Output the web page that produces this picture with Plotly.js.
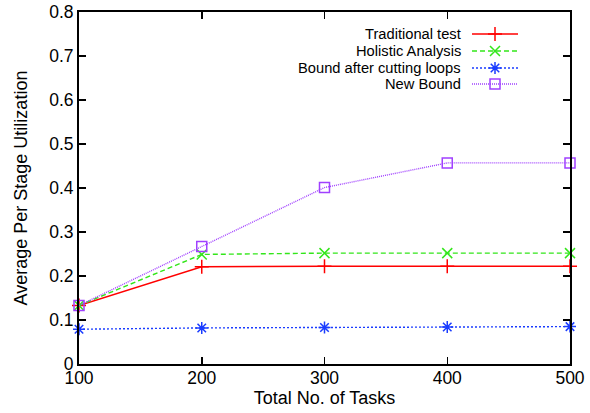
<!DOCTYPE html>
<html><head><meta charset="utf-8">
<script src="https://cdn.plot.ly/plotly-3.0.1.min.js"></script>
<style>html,body{margin:0;padding:0;background:#fff}#chart{width:590px;height:413px}</style>
</head><body><div id="chart"></div>
<script>
const tasks = [100, 200, 300, 400, 500];
const seriesNames = ["Traditional test", "Holistic Analysis", "Bound after cutting loops", "New Bound"];
const traditional = [0.133, 0.221, 0.222, 0.222, 0.222];
const holistic = [0.133, 0.249, 0.252, 0.252, 0.252];
const cutLoops = [0.079, 0.082, 0.083, 0.084, 0.085];
const newBound = [0.133, 0.267, 0.401, 0.457, 0.457];
const xTicks = [100, 200, 300, 400, 500];
const yTicks = [0, 0.1, 0.2, 0.3, 0.4, 0.5, 0.6, 0.7, 0.8];
const yTickText = ["0", "0.1", "0.2", "0.3", "0.4", "0.5", "0.6", "0.7", "0.8"];

const values = [traditional, holistic, cutLoops, newBound];
const styles = [
  {color: "#ff0000", dash: "solid", sym: "cross-thin-open", size: 10},
  {color: "#33e61a", dash: "5px,3px", sym: "x-thin-open", size: 10},
  {color: "#1a3cff", dash: "2px,2px", sym: "asterisk-open", size: 10},
  {color: "#a040ff", dash: "1px,1px", sym: "square-open", size: 10}
];

const traces = [];
values.forEach((v, i) => {
  const s = styles[i];
  traces.push({
    x: tasks, y: v, type: "scatter", mode: "lines+markers", name: seriesNames[i],
    showlegend: false, cliponaxis: false,
    line: {color: s.color, width: 1.4, dash: s.dash},
    marker: {symbol: s.sym, size: s.size, color: s.color, line: {color: s.color, width: 1.5}}
  });
});

// manual legend (symbol to the right of the text, gnuplot style) on an overlay paper-like axis
const legX0 = (472 - 79) / 491, legX1 = (518 - 79) / 491, legXm = (495 - 79) / 491;
const legRows = [34, 51, 68, 84].map(p => (364 - p) / 352);
const annotations = [];
seriesNames.forEach((n, i) => {
  const s = styles[i];
  traces.push({
    x: [legX0, legX1], y: [legRows[i], legRows[i]], xaxis: "x2", yaxis: "y2",
    type: "scatter", mode: "lines", showlegend: false, hoverinfo: "skip",
    line: {color: s.color, width: 1.4, dash: s.dash}
  });
  traces.push({
    x: [legXm], y: [legRows[i]], xaxis: "x2", yaxis: "y2",
    type: "scatter", mode: "markers", showlegend: false, hoverinfo: "skip",
    marker: {symbol: s.sym, size: s.size, color: s.color, line: {color: s.color, width: 1.5}}
  });
  annotations.push({
    xref: "x2", yref: "y2", x: (463 - 79) / 491, y: legRows[i], xanchor: "right", yanchor: "middle",
    text: n, showarrow: false, font: {size: 14.7, color: "#000"}
  });
});

const layout = {
  width: 590, height: 413,
  margin: {l: 79, r: 20, t: 12, b: 49},
  paper_bgcolor: "#fff", plot_bgcolor: "#fff",
  font: {family: "Liberation Sans, Arial, sans-serif", color: "#000"},
  showlegend: false,
  xaxis: {
    range: [100, 500], tickvals: xTicks, ticktext: xTicks.map(String),
    ticks: "inside", ticklen: 7, tickwidth: 1.5, tickcolor: "#000",
    showline: true, linewidth: 2, linecolor: "#000", mirror: "ticks",
    showgrid: false, zeroline: false, tickfont: {size: 17.5}, ticklabelstandoff: -3,
    title: {text: "Total No. of Tasks", font: {size: 18}, standoff: 4}
  },
  yaxis: {
    range: [0, 0.8], tickvals: yTicks, ticktext: yTickText,
    ticks: "inside", ticklen: 7, tickwidth: 1.5, tickcolor: "#000",
    showline: true, linewidth: 2, linecolor: "#000", mirror: "ticks",
    showgrid: false, zeroline: false, tickfont: {size: 17.5},
    title: {text: "Average Per Stage Utilization", font: {size: 18}, standoff: 17}
  },
  xaxis2: {overlaying: "x", range: [0, 1], visible: false, fixedrange: true},
  yaxis2: {overlaying: "y", range: [0, 1], visible: false, fixedrange: true},
  annotations: annotations
};

Plotly.newPlot("chart", traces, layout, {displayModeBar: false, staticPlot: true});
</script></body></html>
